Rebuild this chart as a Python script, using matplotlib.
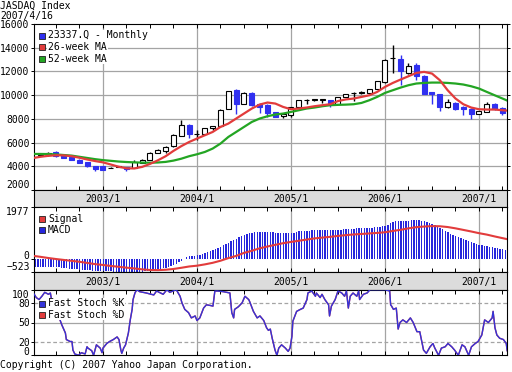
import matplotlib
matplotlib.use("Agg")
import matplotlib.pyplot as plt
from matplotlib.patches import Rectangle

plt.rcParams['font.family'] = ['DejaVu Sans Mono']
FS = 7.0

# monthly candles, May 2002 .. Apr 2007
first_month = 2002 + 4 / 12
opens = [4990, 4920, 5200, 4980, 4780, 4560, 4330, 4020, 3990, 3870, 3960, 3940,
         3890, 4280, 4566, 5120, 5290, 5688, 6591, 7520, 6740, 6760, 7233, 7400,
         8870, 10415, 9290, 10220, 9233, 9150, 8583, 8220, 8364, 9005, 9560, 9620,
         9620, 9570, 9290, 9880, 10150, 10200, 10187, 10558, 11115, 13100, 13090, 11875,
         12580, 11595, 10272, 10077, 9005, 9343, 9005, 8870, 8448, 8583, 9233, 8955]
highs = [5060, 5180, 5260, 5000, 4830, 4600, 4380, 4050, 4050, 3920, 4000, 3960,
         4570, 4600, 5200, 5450, 5700, 6700, 7940, 7560, 7100, 7250, 7400, 8800,
         10356, 10500, 10250, 10250, 9300, 9290, 8600, 8450, 9010, 9600, 9715, 9700,
         9700, 9600, 9850, 10100, 10250, 10350, 10550, 11200, 13010, 14270, 13370, 12670,
         12670, 11700, 10300, 10100, 9715, 9400, 9050, 8900, 8680, 9427, 9300, 9000]
lows = [4950, 4880, 4800, 4700, 4540, 4250, 3950, 3580, 3650, 3850, 3940, 3580,
        3850, 4250, 4540, 5100, 5150, 5650, 6550, 6363, 6250, 6700, 7040, 7350,
        8850, 8448, 9250, 9100, 8500, 8160, 8150, 8110, 8160, 8950, 9290, 9500,
        9343, 9005, 9250, 9850, 9500, 10100, 10150, 10500, 11050, 11875, 10835, 11800,
        11260, 10100, 9290, 8668, 8950, 8727, 8300, 8026, 8420, 8550, 8750, 8300]
closes = [5010, 5130, 4850, 4740, 4570, 4280, 4000, 3750, 3720, 3890, 3975, 3772,
          4338, 4566, 5155, 5410, 5663, 6642, 7486, 6726, 6760, 7233, 7400, 8786,
          10356, 9290, 10220, 9150, 9005, 8500, 8161, 8448, 9005, 9570, 9580, 9640,
          9640, 9233, 9850, 10077, 10170, 10300, 10524, 11175, 13005, 13140, 12045, 12440,
          11620, 10135, 10077, 9005, 9427, 8870, 8870, 8448, 8642, 9233, 8811, 8500]

# moving averages and MACD signal, month starts Apr 2002 .. May 2007
line_start = 2002 + 3 / 12
ma26 = [4690, 4800, 4880, 4930, 4920, 4850, 4720, 4570, 4440, 4330, 4150, 3960,
        3830, 3820, 3950, 4200, 4500, 4850, 5300, 5700, 6050, 6340, 6617, 6895,
        7320, 7600, 8026, 8448, 8870, 9205, 9377, 9290, 9005, 8811, 8870, 8955,
        9064, 9150, 9233, 9500, 9640, 9715, 9850, 9990, 10272, 10695, 11030, 11317,
        11596, 11875, 11960, 11820, 11260, 10415, 9715, 9233, 8955, 8811, 8786, 8786,
        8727, 8680]
ma52 = [5040, 5040, 5030, 5000, 4950, 4900, 4800, 4700, 4600, 4520, 4460, 4400,
        4360, 4330, 4310, 4300, 4320, 4370, 4480, 4640, 4850, 5013, 5207, 5494,
        5916, 6473, 6895, 7318, 7740, 8026, 8220, 8364, 8448, 8583, 8727, 8870,
        8955, 9064, 9150, 9180, 9200, 9233, 9343, 9570, 9850, 10187, 10415, 10640,
        10837, 10980, 11030, 11060, 11060, 11030, 10980, 10895, 10750, 10558, 10272, 9990,
        9715, 9427]
signal = [110, 70, 25, -15, -50, -85, -120, -165, -210, -242, -280, -312,
          -345, -375, -410, -435, -440, -425, -396, -350, -300, -270, -220, -160,
          -80, 20, 105, 220, 300, 395, 465, 530, 592, 640, 685, 730,
          775, 805, 835, 870, 900, 925, 945, 965, 985, 1010, 1060, 1104,
          1160, 1205, 1230, 1245, 1240, 1210, 1160, 1100, 1040, 975, 920, 850,
          785, 720]

# MACD bars, one every third of a month from 2002.28
macd_start = 2002.28
macd = [-305, -306, -307, -308, -308, -308, -310, -315, -325, -335, -348, -360,
        -370, -380, -390, -400, -410, -420, -432, -440, -447, -453, -458, -462,
        -465, -470, -473, -478, -483, -488, -494, -500, -502, -504, -505, -505,
        -505, -506, -505, -503, -500, -497, -490, -483, -473, -455, -435, -415,
        -396, -375, -350, -320, -300, -250, -200, -140, -80, 0, 60, 85,
        100, 115, 130, 150, 185, 230, 270, 300, 335, 370, 400, 460,
        520, 570, 610, 665, 720, 770, 810, 860, 900, 935, 970, 995,
        1005, 1010, 1015, 1015, 1015, 1015, 1010, 1005, 990, 980, 977, 975,
        975, 975, 977, 990, 1020, 1050, 1065, 1070, 1070, 1075, 1085, 1095,
        1104, 1104, 1100, 1104, 1104, 1100, 1104, 1104, 1110, 1110, 1120, 1130,
        1135, 1140, 1150, 1160, 1165, 1169, 1175, 1180, 1185, 1190, 1200, 1210,
        1220, 1231, 1250, 1300, 1361, 1400, 1430, 1450, 1450, 1450, 1455, 1460,
        1480, 1488, 1480, 1470, 1455, 1430, 1420, 1380, 1345, 1300, 1240, 1180,
        1120, 1070, 1035, 960, 915, 860, 815, 785, 740, 700, 660, 625,
        592, 565, 540, 520, 495, 470, 450, 430, 415, 395, 380, 360, 340]

# fast stochastics (%K and %D overlap almost everywhere)
stoch_t = [2002.26, 2002.29, 2002.32, 2002.35, 2002.38, 2002.42, 2002.44, 2002.49, 2002.54, 2002.56,
           2002.60, 2002.61, 2002.65, 2002.67, 2002.68, 2002.70, 2002.74, 2002.77, 2002.81, 2002.83,
           2002.84, 2002.88, 2002.90, 2002.93, 2002.97, 2002.99, 2003.00, 2003.04, 2003.07, 2003.11,
           2003.15, 2003.17, 2003.19, 2003.20, 2003.22, 2003.24, 2003.27, 2003.29, 2003.31, 2003.32,
           2003.34, 2003.36, 2003.39, 2003.46, 2003.54, 2003.57, 2003.64, 2003.68, 2003.71, 2003.78,
           2003.82, 2003.84, 2003.87, 2003.91, 2003.94, 2003.98, 2004.00, 2004.03, 2004.07, 2004.10,
           2004.14, 2004.17, 2004.19, 2004.22, 2004.28, 2004.35, 2004.37, 2004.39, 2004.40, 2004.44,
           2004.48, 2004.51, 2004.55, 2004.56, 2004.60, 2004.64, 2004.67, 2004.71, 2004.74, 2004.76,
           2004.78, 2004.80, 2004.83, 2004.85, 2004.87, 2004.90, 2004.94, 2004.97, 2004.99, 2005.01,
           2005.02, 2005.06, 2005.10, 2005.13, 2005.17, 2005.18, 2005.22, 2005.26, 2005.27, 2005.31,
           2005.33, 2005.36, 2005.40, 2005.41, 2005.43, 2005.47, 2005.50, 2005.54, 2005.57, 2005.59,
           2005.61, 2005.63, 2005.66, 2005.70, 2005.72, 2005.73, 2005.77, 2005.81, 2005.84, 2005.89,
           2005.95, 2006.00, 2006.05, 2006.06, 2006.07, 2006.09, 2006.12, 2006.14, 2006.16, 2006.19,
           2006.23, 2006.27, 2006.30, 2006.34, 2006.37, 2006.41, 2006.44, 2006.48, 2006.51, 2006.53,
           2006.57, 2006.60, 2006.64, 2006.67, 2006.71, 2006.74, 2006.78, 2006.82, 2006.85, 2006.89,
           2006.92, 2006.96, 2006.99, 2007.03, 2007.06, 2007.10, 2007.14, 2007.15, 2007.17, 2007.19,
           2007.22, 2007.26, 2007.29, 2007.30]
stoch_k = [95, 88, 85, 90, 96, 93, 95, 55, 55, 47,
           34, 24, 21, 21, 8, 2, 0, 4, 2, 13,
           11, 7, 0, 16, 11, 4, 11, 18, 21, 24,
           28, 24, 8, 3, 11, 16, 34, 54, 70, 85,
           95, 100, 97, 95, 92, 98, 93, 100, 96, 100,
           90, 80, 70, 65, 57, 60, 53, 57, 72, 77,
           76, 75, 98, 98, 97, 95, 65, 57, 70, 74,
           80, 90, 85, 82, 67, 57, 60, 53, 42, 38,
           40, 26, 8, 0, 11, 16, 11, 6, 11, 29,
           52, 67, 70, 72, 85, 95, 98, 90, 95, 88,
           93, 85, 77, 60, 75, 85, 98, 95, 90, 98,
           72, 90, 95, 90, 98, 85, 93, 95, 100, 100,
           100, 100, 98, 77, 75, 70, 72, 40, 50, 54,
           50, 57, 50, 36, 36, 8, 3, 13, 18, 11,
           0, 11, 13, 18, 13, 8, 0, 16, 13, 0,
           13, 18, 21, 31, 54, 50, 57, 67, 42, 31,
           26, 24, 18, 7]

year_ticks = [2003, 2004, 2005, 2006, 2007]
x_left, x_right = 2002.266, 2007.298

UP_EDGE = '#000000'
DOWN = '#3030f0'
RED = '#e23c3c'
GREEN = '#23a523'
GRID = '#a4a4a4'
STRIP = '#dcdcdc'

W, H = 512, 372
fig = plt.figure(figsize=(W / 100, H / 100), dpi=100)


def px_axes(x0, y0, x1, y1):
    return fig.add_axes([x0 / W, 1 - y1 / H, (x1 - x0) / W, (y1 - y0) / H])


def style_panel(ax):
    ax.set_xlim(x_left, x_right)
    for s in ax.spines.values():
        s.set_linewidth(0.8)
    ax.set_xticks(year_ticks)
    ax.set_xticks([y + q / 4 for y in range(2002, 2008) for q in (1, 2, 3)
                   if x_left < y + q / 4 < x_right], minor=True)
    ax.tick_params(axis='x', which='both', direction='in', top=True, bottom=True,
                   labelbottom=False, length=3, width=0.7)
    ax.tick_params(axis='y', which='both', direction='out', left=True, right=False,
                   labelsize=FS, length=2.5, width=0.7, pad=0.6)
    for yr in year_ticks:
        ax.axvline(yr, color=GRID, lw=0.9, zorder=0)


def strip(y0, y1):
    ax = px_axes(34, y0, 507, y1)
    ax.set_facecolor(STRIP)
    ax.set_xlim(x_left, x_right)
    ax.set_ylim(0, 1)
    ax.set_xticks([])
    ax.set_yticks([])
    for s in ax.spines.values():
        s.set_linewidth(0.8)
    for yr in year_ticks:
        ax.text(yr, 0.45, f'{yr}/1', ha='center', va='center', fontsize=FS)


def legend_rows(items, x, y, dy=11.5):
    for i, (label, color) in enumerate(items):
        yy = y + i * dy
        fig.add_artist(Rectangle((x / W, 1 - (yy + 3) / H), 6 / W, 6 / H,
                                 transform=fig.transFigure, facecolor=color,
                                 edgecolor='#202020', lw=0.6, zorder=6))
        fig.text((x + 9) / W, 1 - yy / H, label, fontsize=FS, va='center', ha='left',
                 zorder=5, bbox=dict(facecolor='white', edgecolor='none', pad=0.6))


# ---- price panel
ax = px_axes(34, 24, 507, 190)
style_panel(ax)
ax.set_ylim(2000, 16000)
ax.set_yticks(range(2000, 16001, 2000))
ax.tick_params(axis='y', right=True, which='major')
for v in range(4000, 16000, 2000):
    ax.axhline(v, color=GRID, lw=0.9, zorder=0)
labs = ax.get_yticklabels()
labs[0].set_va('bottom')

width = 5 / 94
for i in range(len(opens)):
    t = first_month + i / 12
    o, h, l, c = opens[i], highs[i], lows[i], closes[i]
    up = c >= o
    col = UP_EDGE if up else DOWN
    ax.vlines(t, l, h, color=col, lw=1.0, zorder=2)
    body = max(abs(c - o), 25)
    ax.add_patch(Rectangle((t - width / 2, min(o, c)), width, body,
                           facecolor='white' if up else DOWN,
                           edgecolor=col, lw=0.8, zorder=3))

line_t = [line_start + i / 12 for i in range(len(ma26))]
ax.plot(line_t, ma52, color=GREEN, lw=1.6, zorder=4)
ax.plot(line_t, ma26, color=RED, lw=1.6, zorder=4)

strip(190, 207)

# ---- MACD panel
ax2 = px_axes(34, 207, 507, 272.3)
style_panel(ax2)
ax2.set_ylim(-523, 1977)
ax2.set_yticks([-523, 0, 1977])
l2 = ax2.get_yticklabels()
l2[0].set_va('bottom')
l2[1].set_va('baseline')
l2[2].set_va('top')
macd_t = [macd_start + i / 36 for i in range(len(macd))]
ax2.bar(macd_t, macd, width=1.4 / 94, color='#2626dc', zorder=2)
ax2.plot(line_t, signal, color=RED, lw=1.5, zorder=3)

strip(272.3, 289.7)

# ---- stochastics panel
ax3 = px_axes(34, 289.7, 507, 355.3)
style_panel(ax3)
ax3.set_ylim(0, 100)
ax3.set_yticks([0, 20, 50, 80, 100])
l3 = ax3.get_yticklabels()
l3[0].set_va('baseline')
l3[-1].set_va('top')
ax3.axhline(80, color=GRID, lw=0.9, ls=(0, (3, 2)), zorder=0)
ax3.axhline(20, color=GRID, lw=0.9, ls=(0, (3, 2)), zorder=0)
ax3.axhline(50, color=GRID, lw=0.9, zorder=0)
ax3.plot(stoch_t, stoch_k, color=RED, lw=1.0, zorder=2)
ax3.plot(stoch_t, stoch_k, color='#3434d8', lw=1.0, zorder=3)

# ---- legends and texts
legend_rows([('23337.Q - Monthly', DOWN), ('26-week MA', RED), ('52-week MA', GREEN)], 39, 35.5)
legend_rows([('Signal', RED), ('MACD', '#2626dc')], 39, 218.5)
legend_rows([('Fast Stoch %K', '#3434d8'), ('Fast Stoch %D', RED)], 39, 303.5, dy=11)

fig.text(0.5 / W, 1 - 6 / H, 'JASDAQ Index', fontsize=FS, va='center')
fig.text(0.5 / W, 1 - 16.5 / H, '2007/4/16', fontsize=FS, va='center')
fig.text(0.5 / W, 1 - 365 / H, 'Copyright (C) 2007 Yahoo Japan Corporation.', fontsize=FS, va='center')

fig.savefig('out.png', dpi=100)
